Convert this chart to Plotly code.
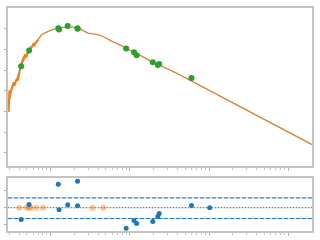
import plotly.graph_objects as go

# ---- data (wavelength in micron, flux arbitrary units) ----
model_wave = [0.290, 0.3256, 0.3758, 0.434, 0.501, 0.579, 0.668, 0.772, 0.891, 1.029,
              1.248, 1.664, 1.939, 2.22, 2.585, 2.96, 3.45, 3.95, 4.73, 5.79, 7.29,
              8.91, 11.22, 14.13, 18.3, 24.4, 37.6, 59.6, 1995]
model_flux = [1.44e-4, 1.29e-3, 3.85e-3, 0.0200, 0.0597, 0.1436, 0.248, 0.535, 0.705, 0.896,
              1.068, 1.287, 1.218, 1.068, 0.830, 0.631, 0.578, 0.535, 0.407, 0.262, 0.179,
              0.115, 0.0744, 0.048, 0.0277, 0.0169, 0.00769, 0.00303, 2.48e-6]

spec_wave = [0.296, 0.301, 0.3117, 0.3256, 0.335, 0.3417, 0.3497, 0.3578, 0.365, 0.3758,
             0.3846, 0.3946, 0.4038, 0.4132, 0.4217, 0.434, 0.4467, 0.4558, 0.4664, 0.4772,
             0.4870, 0.501, 0.5129, 0.5263, 0.5385, 0.5511, 0.5623, 0.579, 0.5957, 0.6078,
             0.6219, 0.6364, 0.6494, 0.668, 0.688, 0.7018]
spec_flux = [9.57e-5, 1.03e-3, 8.30e-4, 1.48e-3, 2.23e-3, 2.57e-3, 1.79e-3, 2.15e-3, 3.09e-3,
             3.73e-3, 3.09e-3, 4.44e-3, 7.44e-3, 0.0133, 0.0179, 0.0230, 0.0345, 0.0398,
             0.0535, 0.0578, 0.0430, 0.0480, 0.0667, 0.0689, 0.0926, 0.119, 0.109, 0.1436,
             0.179, 0.185, 0.160, 0.173, 0.211, 0.230, 0.277, 0.299]

phot_wave = [0.425, 0.535, 1.25, 1.28, 1.645, 2.19, 2.19, 8.99, 11.3, 12.2, 19.5, 22.6, 23.5, 60.1]
phot_flux = [0.0155, 0.0896, 1.07, 0.93, 1.39, 1.07, 1.02, 0.1116, 0.0744, 0.0535, 0.0240,
             0.0179, 0.0200, 0.00416]

res_wave = [0.425, 0.535, 1.25, 1.28, 1.645, 2.19, 2.19, 8.99, 11.3, 12.2, 19.5, 22.6, 23.5,
            60.1, 102.0]
res_val = [-0.686, 0.189, 1.371, -0.114, 0.171, 1.543, 0.114, -1.2, -0.743, -0.914, -0.8,
           -0.514, -0.343, 0.131, 0.0]

res0_wave = [0.402, 0.501, 0.535, 0.557, 0.655, 0.801, 3.38, 4.64]
res0_val = [0, 0, 0, 0, 0, 0, 0, 0]

band_hi = 0.57
band_lo = -0.63

x_major = [1, 10, 100, 1000]
x_minor = [m * d for d in [0.1, 1, 10, 100, 1000] for m in range(2, 10)]
y1_ticks = [1e-6, 1e-5, 1e-4, 1e-3, 1e-2, 1e-1, 1]
y2_ticks = [-1, 0, 1]

fig = go.Figure()

fig.add_trace(go.Scatter(x=spec_wave, y=spec_flux, mode="lines",
                         line=dict(color="#ff7f0e", width=2), xaxis="x", yaxis="y",
                         showlegend=False))
fig.add_trace(go.Scatter(x=model_wave, y=model_flux, mode="lines",
                         line=dict(color="#d4843a", width=1.3), xaxis="x", yaxis="y",
                         showlegend=False))
fig.add_trace(go.Scatter(x=phot_wave, y=phot_flux, mode="markers",
                         marker=dict(color="#2ca02c", size=6), xaxis="x", yaxis="y",
                         showlegend=False))

xr = [model_wave[0], model_wave[-1]]
for yv, dash, col in [(band_hi, "4px,2px", "#1f77b4"), (band_lo, "4px,2px", "#1f77b4"),
                      (0, "1px,2px", "#707070")]:
    fig.add_trace(go.Scatter(x=xr, y=[yv, yv], mode="lines",
                             line=dict(color="#b5d0e8", width=1), xaxis="x2", yaxis="y2",
                             showlegend=False))
    fig.add_trace(go.Scatter(x=xr, y=[yv, yv], mode="lines",
                             line=dict(color=col, width=1, dash=dash), xaxis="x2", yaxis="y2",
                             showlegend=False))

fig.add_trace(go.Scatter(x=res0_wave, y=res0_val, mode="markers",
                         marker=dict(color="rgba(255,127,14,0.45)", size=6), xaxis="x2",
                         yaxis="y2", showlegend=False))
fig.add_trace(go.Scatter(x=res_wave, y=res_val, mode="markers",
                         marker=dict(color="#1f77b4", size=5), xaxis="x2", yaxis="y2",
                         showlegend=False))

spine = dict(showline=True, linecolor="#c4c4c4", linewidth=2, mirror=True,
             showgrid=False, zeroline=False, showticklabels=False,
             ticks="outside", tickcolor="#b0b0b0", ticklen=2, tickwidth=1)

xcommon = dict(type="log", range=[-0.5375, 3.3], tickvals=x_major, ticklen=3,
               minor=dict(tickvals=x_minor, ticks="outside", ticklen=2, tickcolor="#c8c8c8"))

fig.update_layout(
    width=320, height=240,
    margin=dict(l=6, r=7, t=6, b=7),
    paper_bgcolor="white", plot_bgcolor="white",
    xaxis=dict(**{**spine, **xcommon}, domain=[0, 1], anchor="y"),
    yaxis=dict(**spine, type="log", range=[-6.652, 1.014], tickvals=y1_ticks,
               domain=[0.2907, 1], anchor="x"),
    xaxis2=dict(**{**spine, **xcommon}, domain=[0, 1], anchor="y2", matches="x"),
    yaxis2=dict(**spine, range=[-1.354, 1.731], tickvals=y2_ticks,
                domain=[0, 0.2379], anchor="x2"),
)

fig.write_html("out.html")
